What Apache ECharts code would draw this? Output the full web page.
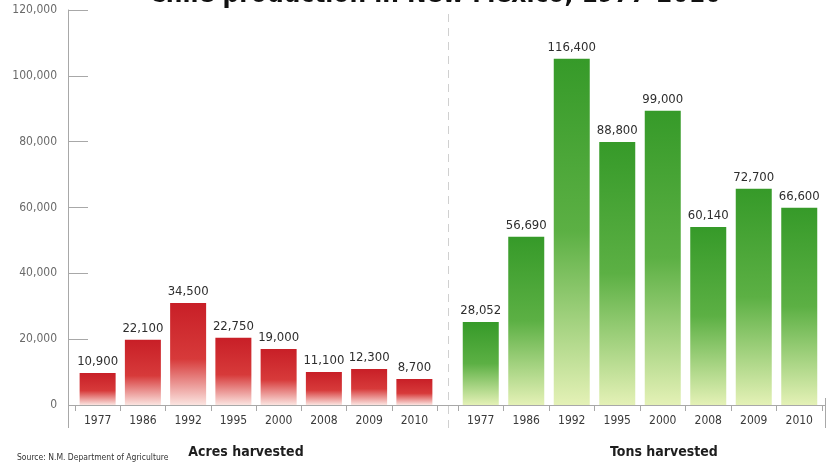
<!DOCTYPE html>
<html>
<head>
<meta charset="utf-8">
<script src="https://cdn.jsdelivr.net/npm/echarts@6/dist/echarts.min.js"></script>
<style>
  html, body { margin: 0; padding: 0; background: #fff; }
  #chart { width: 833px; height: 464px; }
</style>
</head>
<body>
<div id="chart"></div>
<script>
// Chile production in New Mexico, 1977-2010

const years = ['1977', '1986', '1992', '1995', '2000', '2008', '2009', '2010'];
// bar heights as drawn in the picture
const acresBars = [9700, 19800, 31000, 20400, 17000, 10000, 10900, 7900];
const tonsBars = [25200, 51100, 105200, 79900, 89400, 54100, 65700, 59900];
// printed labels above the bars
const acresLabels = ['10,900', '22,100', '34,500', '22,750', '19,000', '11,100', '12,300', '8,700'];
const tonsLabels = ['28,052', '56,690', '116,400', '88,800', '99,000', '60,140', '72,700', '66,600'];
const yMin = 0, yMax = 120000, yStep = 20000;

const narrow = "'DejaVu Sans Condensed', 'Liberation Sans Narrow', sans-serif";

const chart = echarts.init(document.getElementById('chart'));

const xAxisBase = {
    type: 'category',
    data: years,
    axisLine: { show: true, lineStyle: { color: '#a8a8a8', width: 1 } },
    axisTick: { show: true, length: 6, lineStyle: { color: '#a8a8a8' } },
    axisLabel: { fontFamily: narrow, fontSize: 12, color: '#3a3a3a', margin: 10 }
};

const barLabel = (labels) => ({
    show: true,
    position: 'top',
    distance: 5,
    fontFamily: narrow,
    fontSize: 13,
    color: '#2e2e2e',
    formatter: p => labels[p.dataIndex]
});

const redFill = new echarts.graphic.LinearGradient(0, 0, 0, 1, [
    { offset: 0, color: '#c81f27' },
    { offset: 0.55, color: '#d73a3a' },
    { offset: 1, color: '#fbe4e0' }
]);
const greenFill = new echarts.graphic.LinearGradient(0, 0, 0, 1, [
    { offset: 0, color: '#369a29' },
    { offset: 0.5, color: '#5cb044' },
    { offset: 1, color: '#e4f1b6' }
]);

const option = {
    backgroundColor: '#ffffff',
    animation: false,
    grid: [
        { left: 75, right: 833 - 437, top: 10, bottom: 59 },
        { left: 458, right: 833 - 822, top: 10, bottom: 59 }
    ],
    xAxis: [
        Object.assign({ gridIndex: 0 }, xAxisBase),
        Object.assign({ gridIndex: 1 }, xAxisBase)
    ],
    yAxis: [
        {
            gridIndex: 0,
            type: 'value',
            min: yMin, max: yMax, interval: yStep,
            offset: 7,
            axisLine: { show: true, lineStyle: { color: '#a8a8a8' } },
            axisTick: { show: true, inside: true, length: 20, lineStyle: { color: '#a8a8a8' } },
            splitLine: { show: false },
            axisLabel: {
                fontFamily: narrow, fontSize: 12, color: '#6a6a6a', margin: 11,
                formatter: v => v.toLocaleString('en-US')
            }
        },
        {
            gridIndex: 1,
            type: 'value',
            min: yMin, max: yMax, interval: yStep,
            show: false
        }
    ],
    series: [
        {
            name: 'Acres harvested',
            type: 'bar',
            xAxisIndex: 0, yAxisIndex: 0,
            data: acresBars,
            barWidth: 36,
            itemStyle: { color: redFill },
            label: barLabel(acresLabels)
        },
        {
            name: 'Tons harvested',
            type: 'bar',
            xAxisIndex: 1, yAxisIndex: 1,
            data: tonsBars,
            barWidth: 36,
            itemStyle: { color: greenFill },
            label: barLabel(tonsLabels)
        }
    ],
    graphic: [
        // title, cut off at the top edge as in the original
        {
            type: 'text', x: 435, y: 8,
            style: {
                text: 'Chile production in New Mexico, 1977-2010',
                font: "bold 26px " + narrow, fill: '#111',
                align: 'center', verticalAlign: 'bottom'
            }
        },
        // baseline across both groups
        { type: 'line', shape: { x1: 68, y1: 405.5, x2: 826, y2: 405.5 }, style: { stroke: '#a8a8a8', lineWidth: 1 } },
        // axis extensions below the baseline
        { type: 'line', shape: { x1: 68.5, y1: 405, x2: 68.5, y2: 428 }, style: { stroke: '#a8a8a8', lineWidth: 1 } },
        { type: 'line', shape: { x1: 825.5, y1: 398, x2: 825.5, y2: 428 }, style: { stroke: '#a8a8a8', lineWidth: 1 } },
        // dashed separator between the groups
        {
            type: 'line', shape: { x1: 448.5, y1: 14, x2: 448.5, y2: 432 },
            style: { stroke: '#d0d0d0', lineWidth: 1, lineDash: [8, 6] }
        },
        {
            type: 'text', x: 246, y: 452,
            style: {
                text: 'Acres harvested', font: "bold 14px " + narrow, fill: '#1e1e1e',
                align: 'center', verticalAlign: 'middle'
            }
        },
        {
            type: 'text', x: 664, y: 452,
            style: {
                text: 'Tons harvested', font: "bold 14px " + narrow, fill: '#1e1e1e',
                align: 'center', verticalAlign: 'middle'
            }
        },
        {
            type: 'text', x: 17, y: 458,
            style: {
                text: 'Source: N.M. Department of Agriculture', font: "8.5px " + narrow, fill: '#333',
                align: 'left', verticalAlign: 'middle'
            }
        }
    ]
};

chart.setOption(option);
</script>
</body>
</html>
